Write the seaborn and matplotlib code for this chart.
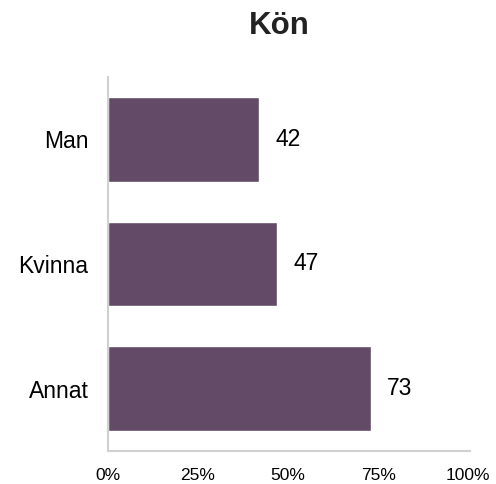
import matplotlib
matplotlib.use("Agg")
import matplotlib.pyplot as plt
import seaborn as sns
import pandas as pd

categories = ["Man", "Kvinna", "Annat"]
values = [42, 47, 73]
xticks = [0, 25, 50, 75, 100]
xticklabels = ["0%", "25%", "50%", "75%", "100%"]

sns.set_theme(style="white")
plt.rcParams['font.family'] = ['Liberation Sans', 'DejaVu Sans']

df = pd.DataFrame({"cat": categories, "val": values})

fig = plt.figure(figsize=(4.96, 4.84), dpi=100)
ax = fig.add_axes([108/496, 1 - 451/484, 362/496, 374/484])
sns.barplot(data=df, x="val", y="cat", orient="h", color="#634a66",
            saturation=1, width=0.68, ax=ax)
ax.set_xlim(0, 100.5)
ax.set_ylim(2.5, -0.5)
ax.set_xticks(xticks)
ax.set_xticklabels(xticklabels, fontsize=12.5, color="#000000")
ax.tick_params(axis="x", length=0, pad=12.5)
ax.tick_params(axis="y", length=0, pad=14, labelsize=16.5, labelcolor="#000000")
ax.set_xlabel("")
ax.set_ylabel("")
for s in ["top", "right"]:
    ax.spines[s].set_visible(False)
for s in ["left", "bottom"]:
    ax.spines[s].set_color("#d0d0d0")
    ax.spines[s].set_linewidth(1.5)
for i, v in enumerate(values):
    ax.text(v + 4.5, i, str(v), va="center", ha="left", fontsize=16.5, color="#000000")
fig.text(279/496, 1 - 34/484, "Kön", ha="center", va="baseline", fontsize=22.5,
         fontweight="bold", color="#222222")
fig.savefig("out.png", dpi=100, facecolor="white")
